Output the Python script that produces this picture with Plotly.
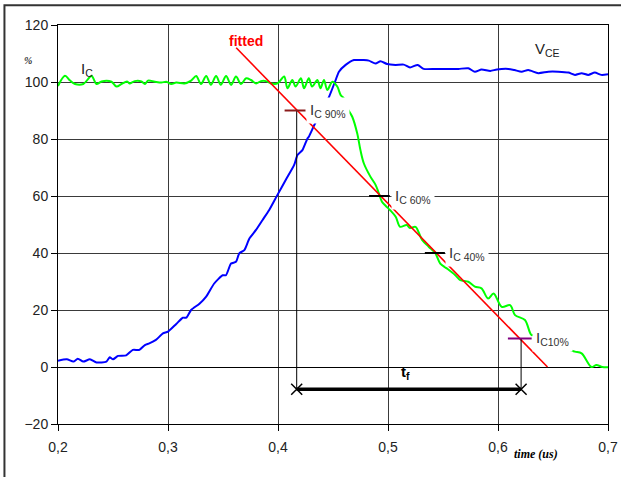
import plotly.graph_objects as go

# ---- data ----
ic_t = [0.200, 0.2063, 0.211, 0.2154, 0.223, 0.2305, 0.235, 0.2396, 0.2486, 0.2532,
        0.2577, 0.2628, 0.265, 0.2697, 0.2758, 0.279, 0.2818, 0.288, 0.294, 0.2985,
        0.303, 0.3075, 0.315, 0.321, 0.3256, 0.330, 0.3347, 0.339, 0.3437, 0.348,
        0.3528, 0.3573, 0.3618, 0.3664, 0.371, 0.3754, 0.380, 0.3845, 0.389, 0.3936,
        0.3996, 0.4056, 0.4086, 0.413, 0.416, 0.4208, 0.4237, 0.428, 0.431, 0.4358,
        0.4386, 0.4418, 0.4448, 0.4494, 0.4539, 0.457, 0.460, 0.463, 0.4675, 0.472,
        0.475, 0.478, 0.484, 0.4887, 0.4917, 0.4945, 0.498, 0.502, 0.507, 0.511,
        0.517, 0.520, 0.525, 0.531, 0.537, 0.543, 0.5475, 0.5535, 0.561, 0.5657,
        0.573, 0.579, 0.585, 0.591, 0.596, 0.6034, 0.611, 0.6155, 0.6245, 0.6305,
        0.635, 0.650, 0.665, 0.670, 0.676, 0.685, 0.6895, 0.695, 0.703]
ic_v = [98.6, 102.2, 100.5, 99.3, 99.3, 102.1, 99.3, 100.2, 100.1, 98.4,
        99.3, 100.2, 99.5, 100.3, 100.2, 99.3, 100.5, 100.1, 99.8, 100.1,
        99.3, 99.8, 99.5, 100.5, 102.1, 99.3, 102.1, 99.0, 102.1, 99.0,
        102.1, 99.0, 101.9, 99.3, 101.3, 100.7, 99.5, 100.3, 100.3, 99.5,
        99.5, 101.9, 97.8, 100.7, 98.4, 101.3, 97.8, 101.3, 98.4, 100.7,
        97.8, 100.7, 97.2, 100.1, 98.4, 95.4, 94.2, 90.8, 87.8, 82.0,
        76.0, 71.5, 66.8, 63.9, 60.9, 58.0, 56.5, 55.0, 52.7, 49.2,
        49.8, 48.8, 49.2, 44.6, 42.2, 39.9, 36.3, 34.6, 32.3, 30.5,
        29.9, 28.2, 27.6, 24.0, 25.8, 21.1, 21.7, 18.2, 16.5, 11.2,
        11.8, 8.5, 6.0, 5.4, 4.8, 0.0, 0.7, 0.0, 0.0]

vce_t = [0.200, 0.208, 0.214, 0.218, 0.223, 0.229, 0.235, 0.244, 0.247, 0.250,
         0.2546, 0.262, 0.268, 0.274, 0.279, 0.283, 0.289, 0.2954, 0.300, 0.3075,
         0.3135, 0.3166, 0.321, 0.3286, 0.3347, 0.342, 0.3497, 0.3527, 0.3573, 0.3618,
         0.3648, 0.3694, 0.374, 0.380, 0.386, 0.392, 0.3995, 0.407, 0.4147, 0.4177,
         0.4222, 0.4268, 0.428, 0.433, 0.440, 0.4464, 0.4524, 0.4554, 0.4615, 0.469,
         0.4735, 0.478, 0.4826, 0.4887, 0.4932, 0.4992, 0.5068, 0.5143, 0.520, 0.527,
         0.5324, 0.543, 0.552, 0.564, 0.573, 0.579, 0.585, 0.593, 0.599, 0.6094,
         0.615, 0.6215, 0.6275, 0.6366, 0.6457, 0.6547, 0.664, 0.670, 0.676, 0.682,
         0.688, 0.694, 0.700]
vce_v = [2.2, 2.7, 1.9, 2.9, 1.9, 2.7, 1.6, 1.9, 3.4, 2.7,
         3.9, 4.1, 6.0, 6.0, 7.7, 8.3, 9.5, 11.8, 12.4, 15.1,
         17.3, 17.3, 20.0, 22.2, 24.7, 29.3, 32.2, 32.2, 36.3, 36.9,
         39.9, 41.0, 45.1, 48.1, 51.6, 55.1, 60.4, 65.6, 70.9, 74.4,
         76.1, 80.2, 80.8, 84.9, 90.0, 94.8, 100.7, 103.6, 106.0, 107.7,
         107.7, 107.7, 107.5, 106.5, 107.3, 106.3, 106.0, 106.1, 105.1, 106.0,
         104.6, 104.6, 104.6, 104.6, 104.8, 103.6, 104.4, 103.9, 104.4, 104.6,
         104.2, 103.6, 104.2, 103.1, 103.6, 103.6, 103.3, 102.5, 103.1, 102.5,
         103.3, 102.5, 102.7]

fit_t = [0.362, 0.645]
fit_v = [112.0, 0.0]

# level markers (short horizontal bars) : x-start, x-end, level
mark_levels = [90, 60, 40, 10]
mark_x0 = [0.406, 0.4828, 0.5335, 0.609]
mark_x1 = [0.425, 0.5016, 0.5517, 0.6306]
mark_colors = ["#8B1A1A", "#000000", "#000000", "#800080"]
mark_labels = ["I<sub>C 90%</sub>", "I<sub>C 60%</sub>", "I<sub>C 40%</sub>", "I<sub>C10%</sub>"]
label_x = [0.4255, 0.5025, 0.552, 0.631]

tf_start, tf_end, tf_level = 0.417, 0.621, -7.8
x_ticks = [0.2, 0.3, 0.4, 0.5, 0.6, 0.7]
y_ticks = [-20, 0, 20, 40, 60, 80, 100, 120]

FONT = "Liberation Sans, Arial, sans-serif"
SERIF = "Liberation Serif, Times New Roman, serif"

fig = go.Figure()
fig.add_trace(go.Scatter(x=vce_t, y=vce_v, mode="lines",
                         line=dict(color="#0000FF", width=2, shape="spline", smoothing=0.6),
                         hoverinfo="skip"))
fig.add_trace(go.Scatter(x=ic_t, y=ic_v, mode="lines",
                         line=dict(color="#00FF00", width=2, shape="spline", smoothing=0.9),
                         hoverinfo="skip"))
fig.add_trace(go.Scatter(x=fit_t, y=fit_v, mode="lines",
                         line=dict(color="#FF0000", width=1.6), hoverinfo="skip"))

# vertical drop lines
fig.add_trace(go.Scatter(x=[tf_start, tf_start], y=[mark_levels[0], tf_level], mode="lines",
                         line=dict(color="#000000", width=1), hoverinfo="skip"))
fig.add_trace(go.Scatter(x=[tf_end, tf_end], y=[mark_levels[3], tf_level], mode="lines",
                         line=dict(color="#000000", width=1), hoverinfo="skip"))
# level bars
for x0, x1, lv, c in zip(mark_x0, mark_x1, mark_levels, mark_colors):
    fig.add_trace(go.Scatter(x=[x0, x1], y=[lv, lv], mode="lines",
                             line=dict(color=c, width=2), hoverinfo="skip"))
# t_f bar
fig.add_trace(go.Scatter(x=[tf_start, tf_end], y=[tf_level, tf_level], mode="lines+markers",
                         line=dict(color="#000000", width=3.5),
                         marker=dict(symbol="x-thin", size=11, line=dict(color="#000000", width=1.5)),
                         hoverinfo="skip"))

ann = []
for lx, lv, txt in zip(label_x, mark_levels, mark_labels):
    ann.append(dict(x=lx, y=lv, xref="x", yref="y", text=txt, showarrow=False,
                    xanchor="left", yanchor="middle", bgcolor="white", borderpad=3,
                    font=dict(family=FONT, size=15, color="#333333")))
ann += [
    dict(x=0.226, y=104.5, xref="x", yref="y", text="I<sub>C</sub>", showarrow=False,
         font=dict(family=FONT, size=15, color="#222222")),
    dict(x=0.645, y=111.5, xref="x", yref="y", text="V<sub>CE</sub>", showarrow=False,
         font=dict(family=FONT, size=15, color="#222222")),
    dict(x=0.371, y=114.5, xref="x", yref="y", text="<b>fitted</b>", showarrow=False,
         font=dict(family=FONT, size=14, color="#FF0000")),
    dict(x=0.516, y=-2.0, xref="x", yref="y", text="<b>t<sub>f</sub></b>", showarrow=False,
         font=dict(family=FONT, size=15, color="#000000")),
    dict(x=0.912, y=-0.098, xref="paper", yref="paper", text="<b><i>time (us)</i></b>",
         showarrow=False, font=dict(family=SERIF, size=12, color="#000000")),
    dict(x=-0.0646, y=0.93, xref="paper", yref="paper", text="<b><i>%</i></b>",
         showarrow=False, font=dict(family=SERIF, size=10, color="#333333")),
]

shapes = [dict(type="rect", xref="paper", yref="paper",
               x0=(5 - 58.5) / 549.5, x1=(640 - 58.5) / 549.5,
               y0=(423.7 - 500) / 399, y1=(423.7 - 5) / 399,
               line=dict(color="#333333", width=2), fillcolor="rgba(0,0,0,0)", layer="below")]

fig.update_layout(
    width=621, height=477,
    margin=dict(l=58, r=13, t=25, b=53),
    paper_bgcolor="white", plot_bgcolor="white",
    showlegend=False, separators=", ",
    annotations=ann, shapes=shapes,
    font=dict(family=FONT, size=14, color="#222222"),
)
fig.update_xaxes(range=[0.2, 0.7], tickvals=x_ticks, tickformat=".1f",
                 showgrid=True, gridcolor="#3a3a3a", gridwidth=1,
                 showline=True, linecolor="#000000", linewidth=1, mirror=True,
                 ticks="outside", ticklen=6, tickcolor="#000000", zeroline=False,
                 ticklabelstandoff=4, automargin=False, ticklabeloverflow="allow",
                 tickfont=dict(family=FONT, size=14, color="#222222"))
fig.update_yaxes(range=[-20, 120], tickvals=y_ticks,
                 showgrid=True, gridcolor="#3a3a3a", gridwidth=1,
                 showline=True, linecolor="#000000", linewidth=1, mirror=True,
                 ticks="outside", ticklen=6, tickcolor="#000000",
                 zeroline=True, zerolinecolor="#000000", zerolinewidth=1,
                 automargin=False,
                 tickfont=dict(family=FONT, size=14, color="#222222"))

fig.write_html("out.html")
